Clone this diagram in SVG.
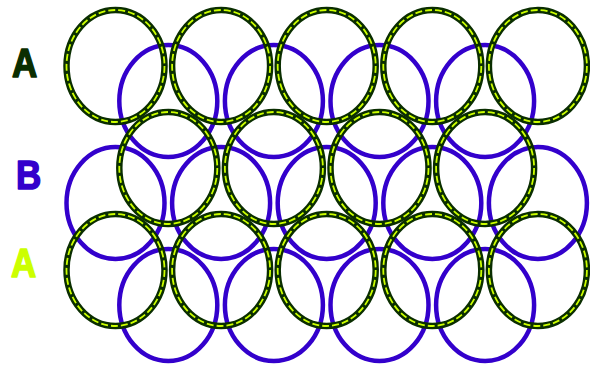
<svg xmlns="http://www.w3.org/2000/svg" xmlns:xlink="http://www.w3.org/1999/xlink" width="590" height="369" viewBox="0 0 590 369">
<style>
.bl{fill:none;stroke:#3300cc;stroke-width:4.5}
.gk{fill:none;stroke:#0a2e00;stroke-width:6.5}
.gy{fill:none;stroke:#ccff00;stroke-width:1.8;stroke-dasharray:7 3}
.lab{font-family:"Liberation Sans",Arial,sans-serif;font-weight:bold;font-size:35px;stroke-width:1.4;stroke-linejoin:round}
</style>
<defs>
<ellipse id="e" cx="0" cy="0" rx="49" ry="56"/>
<g id="gc"><use xlink:href="#e" class="gk"/><use xlink:href="#e" class="gy"/></g>
</defs>
<rect width="590" height="369" fill="#ffffff"/>
<g id="labels">
<text class="lab" fill="#0a2e00" stroke="#0a2e00" transform="translate(12,77) scale(1,1.15)">A</text>
<text class="lab" fill="#3300cc" stroke="#3300cc" transform="translate(16,189) scale(1,1.15)">B</text>
<text class="lab" fill="#ccff00" stroke="#ccff00" transform="translate(11,277) scale(1,1.15)">A</text>
</g>
<g id="layerB">
<g id="b1-1"><use xlink:href="#e" class="bl" x="168.3" y="101"/></g>
<g id="b1-2"><use xlink:href="#e" class="bl" x="273.9" y="101"/></g>
<g id="b1-3"><use xlink:href="#e" class="bl" x="379.5" y="101"/></g>
<g id="b1-4"><use xlink:href="#e" class="bl" x="485.1" y="101"/></g>
<g id="b2-1"><use xlink:href="#e" class="bl" x="115.5" y="203"/></g>
<g id="b2-2"><use xlink:href="#e" class="bl" x="221.1" y="203"/></g>
<g id="b2-3"><use xlink:href="#e" class="bl" x="326.7" y="203"/></g>
<g id="b2-4"><use xlink:href="#e" class="bl" x="432.3" y="203"/></g>
<g id="b2-5"><use xlink:href="#e" class="bl" x="537.9" y="203"/></g>
<g id="b3-1"><use xlink:href="#e" class="bl" x="168.3" y="305"/></g>
<g id="b3-2"><use xlink:href="#e" class="bl" x="273.9" y="305"/></g>
<g id="b3-3"><use xlink:href="#e" class="bl" x="379.5" y="305"/></g>
<g id="b3-4"><use xlink:href="#e" class="bl" x="485.1" y="305"/></g>
</g>
<g id="layerA">
<g id="a1-1"><use xlink:href="#gc" x="115.5" y="66"/></g>
<g id="a1-2"><use xlink:href="#gc" x="221.1" y="66"/></g>
<g id="a1-3"><use xlink:href="#gc" x="326.7" y="66"/></g>
<g id="a1-4"><use xlink:href="#gc" x="432.3" y="66"/></g>
<g id="a1-5"><use xlink:href="#gc" x="537.9" y="66"/></g>
<g id="a2-1"><use xlink:href="#gc" x="168.3" y="168"/></g>
<g id="a2-2"><use xlink:href="#gc" x="273.9" y="168"/></g>
<g id="a2-3"><use xlink:href="#gc" x="379.5" y="168"/></g>
<g id="a2-4"><use xlink:href="#gc" x="485.1" y="168"/></g>
<g id="a3-1"><use xlink:href="#gc" x="115.5" y="270"/></g>
<g id="a3-2"><use xlink:href="#gc" x="221.1" y="270"/></g>
<g id="a3-3"><use xlink:href="#gc" x="326.7" y="270"/></g>
<g id="a3-4"><use xlink:href="#gc" x="432.3" y="270"/></g>
<g id="a3-5"><use xlink:href="#gc" x="537.9" y="270"/></g>
</g>
</svg>
